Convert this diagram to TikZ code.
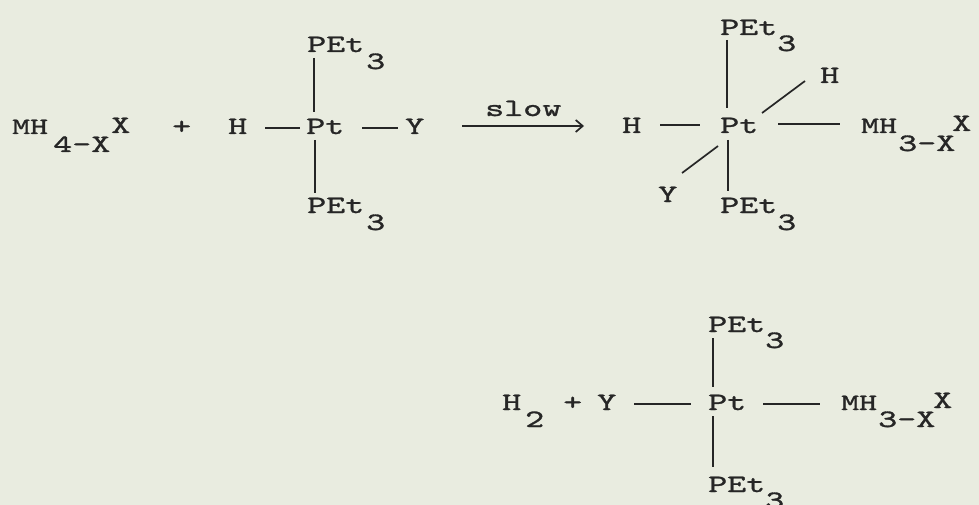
\documentclass[tikz,border=0pt]{standalone}
\usepackage{fontspec}
\usetikzlibrary{arrows.meta}
\definecolor{bg}{HTML}{E9ECE0}
\definecolor{ink}{HTML}{262626}
\newfontfamily\twfam{lmmono10-regular.otf}[FakeStretch=1.45,FakeBold=1.2]
\newcommand\twfont{\twfam\fontsize{25}{29}\selectfont}
\newcommand\twsmall{\twfam\fontsize{23.5}{27}\selectfont}
\tikzset{
  txt/.style={anchor=base west, inner sep=0pt, text=ink, font=\twfont},
  txs/.style={txt, font=\twsmall},
  bond/.style={draw=ink, line width=1.7pt},
}
\begin{document}
\begin{tikzpicture}[x=1pt,y=-1pt]
\fill[bg] (0,0) rectangle (979,505);
\useasboundingbox (0,0) rectangle (979,505);

% ---------- reactants ----------
\node[txs] (mh) at (12,134) {MH};
\node[txt] (mhs) at (53,152) {4-X};
\node[txt] (mhx) at (111,133) {X};
\node[txt] (plus1) at (172,134) {+};
\node[txt] (h1) at (228,134) {H};
\node[txt] (pt1) at (306,134) {Pt};
\node[txt] (y1) at (405,134) {Y};
\node[txt] (pa1) at (307,52) {PEt};
\node[txt] (pa1s) at (366,69) {3};
\node[txt] (pb1) at (307,213) {PEt};
\node[txt] (pb1s) at (366,230) {3};
\coordinate (b1a) at (265,128); \coordinate (b1b) at (300,128);
\coordinate (b1c) at (362,128); \coordinate (b1d) at (398,128);
\coordinate (b1e) at (314,58);  \coordinate (b1f) at (314,112);
\coordinate (b1g) at (315,140); \coordinate (b1h) at (315,193);
\draw[bond] (b1a) -- (b1b);
\draw[bond] (b1c) -- (b1d);
\draw[bond] (b1e) -- (b1f);
\draw[bond] (b1g) -- (b1h);

% ---------- arrow ----------
\coordinate (ar1) at (462,126); \coordinate (ar2) at (584,126);
\draw[bond, -{Straight Barb[length=7pt,width=12pt]}] (ar1) -- (ar2);
\node[txt] (slow) at (485,116) {slow};

% ---------- intermediate ----------
\node[txt] (h2) at (622,133) {H};
\node[txt] (pt2) at (720,133) {Pt};
\node[txs] (mh2) at (861,133) {MH};
\node[txt] (mh2s) at (898,151) {3-X};
\node[txt] (mh2x) at (952,131) {X};
\node[txt] (pa2) at (720,35) {PEt};
\node[txt] (pa2s) at (777,51) {3};
\node[txt] (hu2) at (820,83) {H};
\node[txt] (y2) at (658,202) {Y};
\node[txt] (pb2) at (720,213) {PEt};
\node[txt] (pb2s) at (777,230) {3};
\coordinate (b2a) at (660,125); \coordinate (b2b) at (700,125);
\coordinate (b2c) at (778,124); \coordinate (b2d) at (840,124);
\coordinate (b2e) at (727,40);  \coordinate (b2f) at (727,108);
\coordinate (b2g) at (728,140); \coordinate (b2h) at (728,191);
\coordinate (b2i) at (762,113); \coordinate (b2j) at (805,81);
\coordinate (b2k) at (682,173); \coordinate (b2l) at (718,146);
\draw[bond] (b2a) -- (b2b);
\draw[bond] (b2c) -- (b2d);
\draw[bond] (b2e) -- (b2f);
\draw[bond] (b2g) -- (b2h);
\draw[bond] (b2i) -- (b2j);
\draw[bond] (b2k) -- (b2l);

% ---------- products ----------
\node[txt] (h3) at (502,410) {H};
\node[txt] (h3s) at (525,427) {2};
\node[txt] (plus2) at (563,410) {+};
\node[txt] (y3) at (597,410) {Y};
\node[txt] (pt3) at (708,410) {Pt};
\node[txs] (mh3) at (841,410) {MH};
\node[txt] (mh3s) at (878,427) {3-X};
\node[txt] (mh3x) at (933,408) {X};
\node[txt] (pa3) at (708,332) {PEt};
\node[txt] (pa3s) at (765,348) {3};
\node[txt] (pb3) at (708,492) {PEt};
\node[txt] (pb3s) at (765,508) {3};
\coordinate (b3a) at (634,404); \coordinate (b3b) at (691,404);
\coordinate (b3c) at (763,404); \coordinate (b3d) at (820,404);
\coordinate (b3e) at (713,338); \coordinate (b3f) at (713,387);
\coordinate (b3g) at (713,416); \coordinate (b3h) at (713,467);
\draw[bond] (b3a) -- (b3b);
\draw[bond] (b3c) -- (b3d);
\draw[bond] (b3e) -- (b3f);
\draw[bond] (b3g) -- (b3h);
\end{tikzpicture}
\end{document}
